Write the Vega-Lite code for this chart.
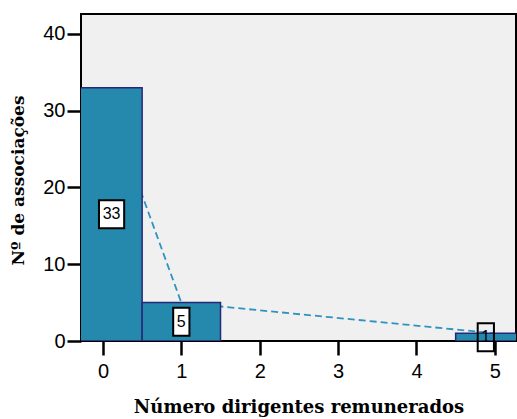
{
  "$schema": "https://vega.github.io/schema/vega-lite/v6.json",
  "width": 435,
  "height": 327,
  "autosize": {"type": "none"},
  "padding": {"left": 81, "top": 14, "right": 1, "bottom": 78},
  "background": "white",
  "config": {
    "view": {"fill": "#F0F0F0", "stroke": "black", "strokeWidth": 2},
    "axis": {
      "grid": false,
      "domain": false,
      "tickColor": "black",
      "tickWidth": 2.5,
      "tickSize": 14,
      "labelFont": "Liberation Sans",
      "labelFontSize": 20,
      "labelColor": "black",
      "labelFlush": false,
      "format": "d",
      "titleFont": "DejaVu Serif",
      "titleFontWeight": "bold",
      "titleColor": "black"
    },
    "axisX": {"labelPadding": 6, "titleFontSize": 18, "titleY": 66, "titleBaseline": "middle"},
    "axisY": {"labelPadding": 2, "titleFontSize": 17, "titleX": -63, "titleY": 166, "titleAngle": -90, "titleAlign": "center", "titleBaseline": "middle"}
  },
  "data": {
    "values": [
      {"value": 0, "bin_start": -0.5, "bin_end": 0.5, "count": 33},
      {"value": 1, "bin_start": 0.5, "bin_end": 1.5, "count": 5},
      {"value": 5, "bin_start": 4.5, "bin_end": 5.5, "count": 1}
    ]
  },
  "transform": [
    {"calculate": "(max(datum.bin_start, -0.28) + min(datum.bin_end, 5.27)) / 2", "as": "label_x"},
    {"calculate": "datum.count / 2", "as": "label_y"}
  ],
  "layer": [
    {
      "mark": {"type": "line", "color": "#2E93BE", "strokeWidth": 1.8, "strokeDash": [7, 4], "clip": true},
      "encoding": {
        "x": {"field": "value", "type": "quantitative", "title": "Número dirigentes remunerados",
              "scale": {"domain": [-0.28, 5.27], "nice": false, "zero": false},
              "axis": {"values": [0, 1, 2, 3, 4, 5]}},
        "y": {"field": "count", "type": "quantitative", "title": "Nº de associações",
              "scale": {"domain": [0, 42.6], "nice": false},
              "axis": {"values": [0, 10, 20, 30, 40]}}
      }
    },
    {
      "mark": {"type": "rect", "fill": "#2589AD", "stroke": "#27277A", "strokeWidth": 1.5, "clip": true},
      "encoding": {
        "x": {"field": "bin_start", "type": "quantitative", "title": "Número dirigentes remunerados"},
        "x2": {"field": "bin_end"},
        "y": {"field": "count", "type": "quantitative", "title": "Nº de associações"},
        "y2": {"datum": 0}
      }
    },
    {
      "mark": {"type": "point", "filled": true, "stroke": "black", "strokeWidth": 2, "size": 784, "opacity": 1},
      "encoding": {
        "x": {"field": "label_x", "type": "quantitative", "title": "Número dirigentes remunerados"},
        "y": {"field": "label_y", "type": "quantitative", "title": "Nº de associações"},
        "fill": {"condition": {"test": "datum.count >= 5", "value": "white"}, "value": "transparent"},
        "shape": {"condition": {"test": "datum.count >= 10", "value": "M-0.9,-1H0.9V1H-0.9Z"}, "value": "M-0.58,-1H0.58V1H-0.58Z"}
      }
    },
    {
      "mark": {"type": "text", "font": "Liberation Sans", "fontSize": 16, "color": "black", "align": "center", "baseline": "middle"},
      "encoding": {
        "x": {"field": "label_x", "type": "quantitative", "title": "Número dirigentes remunerados"},
        "y": {"field": "label_y", "type": "quantitative", "title": "Nº de associações"},
        "text": {"field": "count", "type": "quantitative"}
      }
    }
  ]
}
